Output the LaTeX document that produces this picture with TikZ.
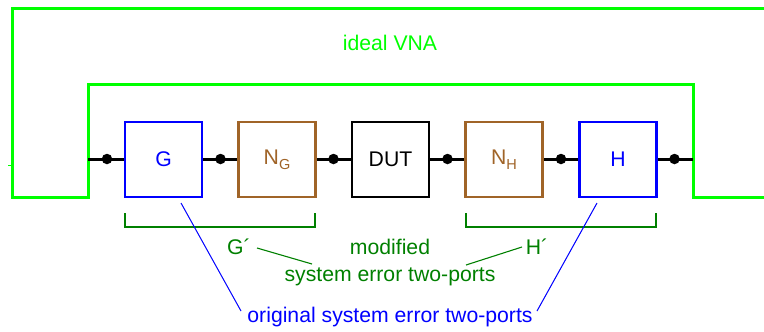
\documentclass[tikz,border=0pt]{standalone}
\usepackage{fontspec}
\setmainfont{Liberation Sans}
\definecolor{vnagreen}{RGB}{0,255,0}
\definecolor{modgreen}{RGB}{0,128,0}
\definecolor{errblue}{RGB}{0,0,255}
\definecolor{netbrown}{RGB}{160,100,40}
\newcommand{\sub}[1]{\raisebox{-5bp}{\fontsize{14.5bp}{16bp}\selectfont #1}}
\begin{document}
\begin{tikzpicture}[x=1bp,y=-1bp,
  every node/.style={font=\fontsize{21.2bp}{25bp}\selectfont, inner sep=0pt},
  twoport/.style={draw, line width=2.6bp, minimum width=77bp, minimum height=75bp, fill=white},
  vnaline/.style={draw=vnagreen, line width=3bp},
  signal/.style={draw=black, line width=3bp},
  port/.style={circle, fill=black, minimum size=10.5bp},
  bracket/.style={draw=modgreen, line width=2.8bp},
  modlink/.style={draw=modgreen, line width=1.1bp},
  origlink/.style={draw=errblue, line width=1bp}]
\useasboundingbox (0,0) rectangle (764,331);

% ideal VNA enclosure
\draw[vnaline] (764,8) -- (12,8) -- (12,197) -- (88,197) -- (88,84) -- (693,84) -- (693,197) -- (764,197);
\draw[draw=vnagreen, line width=0.8bp] (8,165) -- (12,165);
\node[text=vnagreen] (vna) at (390,43) {ideal VNA};

% signal path
\coordinate (in) at (88,159);
\coordinate (out) at (693,159);
\draw[signal] (in) -- (out);

% two-ports
\node[twoport, draw=errblue, text=errblue] (G) at (163.5,159.5) {G};
\node[twoport, draw=netbrown, text=netbrown] (NG) at (277,159.5) {N\sub{G}};
\node[twoport, draw=black] (DUT) at (390.5,159.5) {DUT};
\node[twoport, draw=netbrown, text=netbrown] (NH) at (504,159.5) {N\sub{H}};
\node[twoport, draw=errblue, text=errblue] (H) at (618,159.5) {H};

% ports
\node[port] (p1) at (107,159) {};
\node[port] (p2) at (220.5,159) {};
\node[port] (p3) at (333.5,159) {};
\node[port] (p4) at (447.5,159) {};
\node[port] (p5) at (561,159) {};
\node[port] (p6) at (674.5,159) {};

% brackets of the modified two-ports
\draw[bracket] (125,213) -- (125,227) -- (315,227) -- (315,213);
\draw[bracket] (466,213) -- (466,227) -- (656,227) -- (656,213);

% labels
\node[text=modgreen] (Gp) at (239,247) {G´};
\node[text=modgreen] (Hp) at (537,247) {H´};
\node[text=modgreen, align=center] (mod) at (390,262.5) {modified\\[1.5bp]system error two-ports};
\node[text=errblue] (orig) at (390,317) {original system error two-ports};

% leader lines
\coordinate (gpl) at (257,248);
\coordinate (modl) at (312,264);
\coordinate (hpl) at (522,247);
\coordinate (modr) at (466,265);
\draw[modlink] (gpl) -- (modl);
\draw[modlink] (hpl) -- (modr);

\coordinate (gfoot) at (181,203);
\coordinate (hfoot) at (597,203);
\coordinate (origl) at (241,311);
\coordinate (origr) at (537,311);
\draw[origlink] (gfoot) -- (origl);
\draw[origlink] (hfoot) -- (origr);
\end{tikzpicture}
\end{document}
